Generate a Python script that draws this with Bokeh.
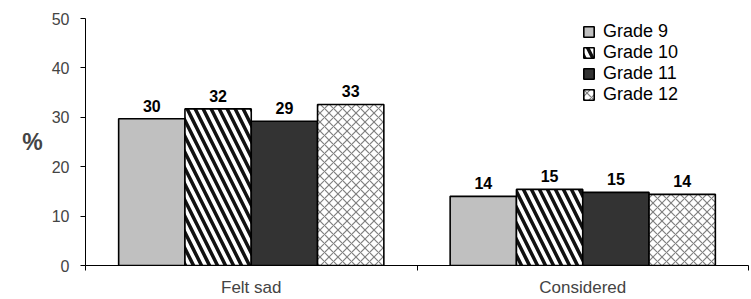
from bokeh.plotting import figure
from bokeh.models import ColumnDataSource, FixedTicker, Range1d, Legend, LegendItem, LabelSet
from bokeh.core.properties import value
from bokeh.embed import file_html
from bokeh.resources import INLINE

categories = ["Felt sad", "Considered"]
grades = ["Grade 9", "Grade 10", "Grade 11", "Grade 12"]
grade9 = [29.7, 14.0]
grade10 = [31.7, 15.4]
grade11 = [29.2, 14.8]
grade12 = [32.6, 14.4]
labels9 = ["30", "14"]
labels10 = ["32", "15"]
labels11 = ["29", "15"]
labels12 = ["33", "14"]
y_ticks = [0, 10, 20, 30, 40, 50]

series = [grade9, grade10, grade11, grade12]
series_labels = [labels9, labels10, labels11, labels12]
offsets = [-0.3, -0.1, 0.1, 0.3]
styles = [
    dict(fill_color="#c0c0c0"),
    dict(fill_color="white", hatch_pattern="\\", hatch_color="#111111", hatch_weight=3.5, hatch_scale=16),
    dict(fill_color="#333333"),
    dict(fill_color="white", hatch_pattern="x", hatch_color="#808080", hatch_weight=1.2, hatch_scale=9),
]

p = figure(width=751, height=299, output_backend="svg", toolbar_location=None,
           x_range=Range1d(0, 2), y_range=Range1d(0, 50),
           min_border_left=85, min_border_right=3, min_border_top=18, min_border_bottom=34)
p.outline_line_color = None
p.xgrid.visible = False
p.ygrid.visible = False
p.background_fill_color = "white"

font = "Liberation Sans"
items = []
for i, vals in enumerate(series):
    xs = [k + 0.5 + offsets[i] for k in range(len(categories))]
    src = ColumnDataSource(dict(x=xs, top=vals, lab=series_labels[i]))
    r = p.vbar(x="x", top="top", width=0.2, source=src, line_color="black", line_width=1.6, **styles[i])
    items.append(LegendItem(label=grades[i], renderers=[r]))
    ls = LabelSet(x="x", y="top", text="lab", source=src, text_align="center", text_baseline="bottom",
                  y_offset=7, text_font=value(font), text_font_style="bold", text_font_size="16px",
                  text_color="black")
    p.add_layout(ls)

legend = Legend(items=items, location=(497, 160), padding=0, margin=0, spacing=0,
                glyph_width=13, glyph_height=13, label_height=21, label_standoff=8,
                label_text_font=font, label_text_font_size="18px", label_text_color="black",
                border_line_color=None, background_fill_alpha=0)
p.add_layout(legend)

# y axis
p.yaxis.ticker = FixedTicker(ticks=y_ticks)
p.yaxis.major_tick_out = 5
p.yaxis.major_tick_in = 0
p.yaxis.minor_tick_line_color = None
p.yaxis.major_label_text_font = font
p.yaxis.major_label_text_font_size = "16px"
p.yaxis.major_label_standoff = 11
p.yaxis.axis_label = "%"
p.yaxis.axis_label_orientation = "horizontal"
p.yaxis.axis_label_text_font = font
p.yaxis.axis_label_text_font_style = "bold"
p.yaxis.axis_label_text_font_size = "23px"
p.yaxis.axis_label_standoff = 6
p.yaxis.axis_line_color = "black"

# x axis
p.xaxis.ticker = FixedTicker(ticks=[0.5, 1.5], minor_ticks=[0, 1, 2])
p.xaxis.major_label_overrides = {0.5: categories[0], 1.5: categories[1]}
p.xaxis.major_tick_out = 0
p.xaxis.major_tick_in = 0
p.xaxis.minor_tick_out = 5
p.xaxis.minor_tick_in = 0
p.xaxis.minor_tick_line_color = "black"
p.xaxis.major_label_text_font = font
p.xaxis.major_label_text_font_size = "17px"
p.xaxis.major_label_standoff = 7
p.xaxis.axis_line_color = "black"

open("out.html", "w").write(file_html(p, INLINE))
